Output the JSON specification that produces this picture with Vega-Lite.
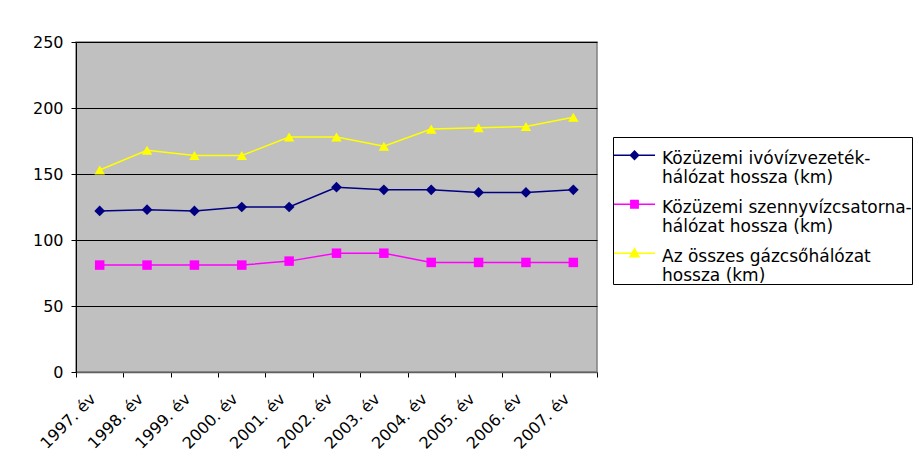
{
  "$schema": "https://vega.github.io/schema/vega-lite/v6.json",
  "autosize": {"type": "none"},
  "width": 521,
  "height": 330,
  "padding": {"left": 76, "top": 42, "right": 322, "bottom": 91},
  "background": "white",
  "config": {
    "font": "DejaVu Sans",
    "view": {"fill": "#C0C0C0", "stroke": "#808080", "strokeWidth": 1.5},
    "legend": {
      "orient": "none", "legendX": 537, "legendY": 95,
      "strokeColor": "black", "padding": 0, "fillColor": "white",
      "labelFontSize": 17, "labelColor": "black", "labelLimit": 400, "labelOffset": 6,
      "labelBaseline": "middle", "symbolOpacity": 1,
      "symbolSize": 1681, "symbolStrokeWidth": 1.5, "rowPadding": -11.5
    }
  },
  "data": {
    "values": [
      {"year": "1997. év", "s": "A", "v": 122}, {"year": "1998. év", "s": "A", "v": 123}, {"year": "1999. év", "s": "A", "v": 122},
      {"year": "2000. év", "s": "A", "v": 125}, {"year": "2001. év", "s": "A", "v": 125}, {"year": "2002. év", "s": "A", "v": 140},
      {"year": "2003. év", "s": "A", "v": 138}, {"year": "2004. év", "s": "A", "v": 138}, {"year": "2005. év", "s": "A", "v": 136},
      {"year": "2006. év", "s": "A", "v": 136}, {"year": "2007. év", "s": "A", "v": 138},
      {"year": "1997. év", "s": "B", "v": 81}, {"year": "1998. év", "s": "B", "v": 81}, {"year": "1999. év", "s": "B", "v": 81},
      {"year": "2000. év", "s": "B", "v": 81}, {"year": "2001. év", "s": "B", "v": 84}, {"year": "2002. év", "s": "B", "v": 90},
      {"year": "2003. év", "s": "B", "v": 90}, {"year": "2004. év", "s": "B", "v": 83}, {"year": "2005. év", "s": "B", "v": 83},
      {"year": "2006. év", "s": "B", "v": 83}, {"year": "2007. év", "s": "B", "v": 83},
      {"year": "1997. év", "s": "C", "v": 153}, {"year": "1998. év", "s": "C", "v": 168}, {"year": "1999. év", "s": "C", "v": 164},
      {"year": "2000. év", "s": "C", "v": 164}, {"year": "2001. év", "s": "C", "v": 178}, {"year": "2002. év", "s": "C", "v": 178},
      {"year": "2003. év", "s": "C", "v": 171}, {"year": "2004. év", "s": "C", "v": 184}, {"year": "2005. év", "s": "C", "v": 185},
      {"year": "2006. év", "s": "C", "v": 186}, {"year": "2007. év", "s": "C", "v": 193}
    ]
  },
  "encoding": {
    "x": {
      "field": "year", "type": "ordinal", "title": null,
      "scale": {"type": "band", "paddingInner": 0, "paddingOuter": 0},
      "axis": {
        "labelAngle": -45, "labelAlign": "right", "labelBaseline": "middle",
        "labelFontSize": 16, "labelColor": "black", "labelPadding": 19, "labelOffset": -7,
        "tickBand": "extent", "tickSize": 5, "tickColor": "black",
        "domainColor": "#606060", "domainWidth": 1.5, "grid": false
      }
    },
    "y": {
      "field": "v", "type": "quantitative", "title": null,
      "scale": {"domain": [0, 250], "nice": false},
      "axis": {
        "values": [0, 50, 100, 150, 200, 250],
        "labelFontSize": 16, "labelColor": "black", "labelPadding": 8,
        "tickSize": 5, "tickColor": "black",
        "domainColor": "black", "domainWidth": 1,
        "grid": true, "gridColor": "black", "gridWidth": 1, "gridOpacity": 1
      }
    }
  },
  "layer": [
    {
      "transform": [{"filter": "datum.s == 'A'"}],
      "mark": {"type": "line", "strokeWidth": 1.5, "color": "#000080"}
    },
    {
      "transform": [{"filter": "datum.s == 'B'"}],
      "mark": {"type": "line", "strokeWidth": 1.5, "color": "#FF00FF"}
    },
    {
      "transform": [{"filter": "datum.s == 'C'"}],
      "mark": {"type": "line", "strokeWidth": 1.5, "color": "#FFFF00"}
    },
    {
      "transform": [{"filter": "datum.s == 'A'"}],
      "mark": {"type": "point", "filled": true, "opacity": 1, "shape": "diamond", "color": "#000080", "size": 115}
    },
    {
      "transform": [{"filter": "datum.s == 'B'"}],
      "mark": {"type": "point", "filled": true, "opacity": 1, "shape": "square", "color": "#FF00FF", "size": 90}
    },
    {
      "transform": [{"filter": "datum.s == 'C'"}],
      "mark": {"type": "point", "filled": true, "opacity": 1, "shape": "triangle-up", "color": "#FFFF00", "size": 110}
    },
    {
      "mark": {"type": "point", "filled": false, "opacity": 0},
      "encoding": {
        "color": {
          "field": "s", "type": "nominal",
          "scale": {"domain": ["A", "B", "C"], "range": ["#000080", "#FF00FF", "#FFFF00"]},
          "legend": {
            "title": null,
            "labelExpr": "datum.value == 'A' ? ['Közüzemi ivóvízvezeték-', 'hálózat hossza (km)'] : datum.value == 'B' ? ['Közüzemi szennyvízcsatorna-', 'hálózat hossza (km)'] : ['Az összes gázcsőhálózat', 'hossza (km)']"
          }
        },
        "shape": {
          "field": "s", "type": "nominal",
          "scale": {"domain": ["A", "B", "C"], "range": [
            "M-1,-0.16H1M0,-0.36L0.2,-0.16L0,0.04L-0.2,-0.16ZM0,-0.29L0.13,-0.16L0,-0.03L-0.13,-0.16ZM0,-0.22L0.06,-0.16L0,-0.1L-0.06,-0.16Z",
            "M-1,-0.16H1M-0.18,-0.34H0.18V0.02H-0.18ZM-0.11,-0.27H0.11V-0.05H-0.11ZM-0.04,-0.2H0.04V-0.12H-0.04Z",
            "M-1,-0.16H1M0,-0.38L0.22,0.01H-0.22ZM0,-0.3L0.14,-0.04H-0.14ZM0,-0.22L0.07,-0.08H-0.07Z"
          ]},
          "legend": {
            "title": null,
            "labelExpr": "datum.value == 'A' ? ['Közüzemi ivóvízvezeték-', 'hálózat hossza (km)'] : datum.value == 'B' ? ['Közüzemi szennyvízcsatorna-', 'hálózat hossza (km)'] : ['Az összes gázcsőhálózat', 'hossza (km)']"
          }
        }
      }
    }
  ]
}
